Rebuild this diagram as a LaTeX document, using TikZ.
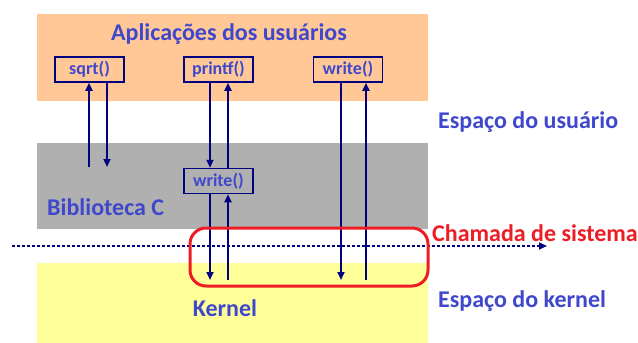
\documentclass[tikz,border=0pt]{standalone}
\usepackage{fontspec}
\setmainfont{Carlito}
\usetikzlibrary{arrows.meta}
\definecolor{txtblue}{HTML}{3F48CC}
\definecolor{navy}{HTML}{000080}
\definecolor{peach}{HTML}{FFC896}
\definecolor{libgray}{HTML}{B0B0B0}
\definecolor{kyellow}{HTML}{FFFF99}
\definecolor{sysred}{HTML}{EE1C24}
\tikzset{
  lbl/.style={font=\bfseries\fontsize{24}{28}\selectfont, text=txtblue, inner sep=0pt},
  fn/.style={draw=navy, line width=1.5pt, font=\bfseries\fontsize{18}{20}\selectfont, text=txtblue, minimum width=69pt, minimum height=25pt, inner sep=0pt},
  flow/.style={draw=navy, line width=2.2pt, -{Triangle[length=8pt,width=7pt]}},
}
\begin{document}
\begin{tikzpicture}[x=1pt,y=-1pt]
\useasboundingbox (0,0) rectangle (638,343);
\fill[peach] (37,14) rectangle (428,101);
\fill[libgray] (37,143) rectangle (428,229);
\fill[kyellow] (37,263) rectangle (428,343);
\node[lbl] (title) at (229,34) {Aplicações dos usuários};
\node[fn] (sqrt) at (89.5,69.5) {sqrt()};
\node[fn] (printf) at (218.5,69.5) {printf()};
\node[fn] (writeu) at (348,69.5) {write()};
\node[fn] (writel) at (218.5,181) {write()};
\node[lbl, anchor=west] (bib) at (47,207) {Biblioteca C};
\node[lbl] (kern) at (225,308) {Kernel};
\node[lbl, anchor=west] (eu) at (438,122) {Espaço do usuário};
\node[lbl, anchor=west] (ek) at (438,301) {Espaço do kernel};
\node[lbl, anchor=west, text=sysred] (cs) at (432,233) {Chamada de sistema};
\coordinate (sq1) at (89,167);
\coordinate (sq2) at (107,167);
\coordinate (k1) at (210,280);
\coordinate (k2) at (228,280);
\coordinate (k3) at (341,280);
\coordinate (k4) at (366,280);
\draw[flow] (sq1) -- (sq1 |- sqrt.south);
\draw[flow] (sq2 |- sqrt.south) -- (sq2);
\draw[flow] (k1 |- printf.south) -- (k1 |- writel.north);
\draw[flow] (k2 |- writel.north) -- (k2 |- printf.south);
\draw[flow] (k1 |- writel.south) -- (k1);
\draw[flow] (k2) -- (k2 |- writel.south);
\draw[flow] (k3 |- writeu.south) -- (k3);
\draw[flow] (k4) -- (k4 |- writeu.south);
\coordinate (d0) at (12,246);
\coordinate (d1) at (547,246);
\draw[navy, line width=2pt, dash pattern=on 2.5pt off 2.5pt, -{Triangle[length=8pt,width=7pt]}] (d0) -- (d1);
\draw[sysred, line width=3pt, rounded corners=16pt] (190,228) rectangle (428,286);
\end{tikzpicture}
\end{document}
